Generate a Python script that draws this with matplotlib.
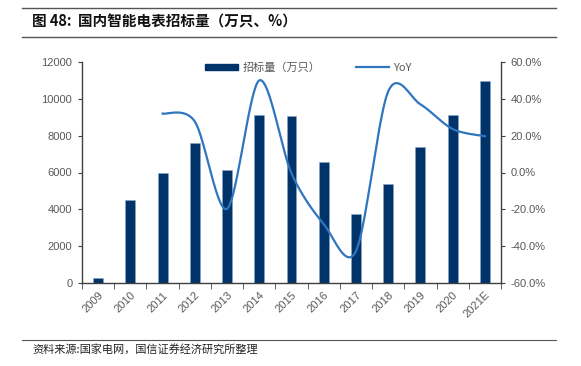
import matplotlib
matplotlib.use("Agg")
import matplotlib.pyplot as plt
import numpy as np
from matplotlib.lines import Line2D
from matplotlib.patches import Patch

years = ["2009", "2010", "2011", "2012", "2013", "2014", "2015", "2016", "2017", "2018", "2019", "2020", "2021E"]
bids = [280, 4530, 5950, 7590, 6110, 9120, 9060, 6550, 3760, 5400, 7380, 9130, 10960]
yoy_years = years[2:]
yoy = [32.0, 27.7, -19.7, 50.0, -0.5, -28.0, -42.7, 44.0, 37.0, 23.6, 19.7]

CJK = ["Noto Sans CJK SC", "DejaVu Sans"]
NUM = ["Liberation Sans", "DejaVu Sans"]

fig = plt.figure(figsize=(5.81, 3.66), dpi=100)
ax = fig.add_axes([82/581, 1-283/366, (501-82)/581, (283-62)/366])
ax2 = ax.twinx()

x = np.arange(len(years))
bar_color = "#00336a"
ax.bar(x, bids, width=0.31, color=bar_color, edgecolor="#8aa6c8", linewidth=0.4, zorder=2)
ax.set_xlim(-0.5, len(years)-0.5)
ax.set_ylim(0, 12000)
ax.set_yticks(np.arange(0, 12001, 2000))

# smooth YoY line (cardinal spline)
xi = np.array([years.index(y) for y in yoy_years], dtype=float)
yi = np.array(yoy, dtype=float)
P = np.column_stack([xi, yi])
curve = []
n = len(P)
k = 1/6.5
for i in range(n-1):
    p0 = P[i-1] if i > 0 else P[i]
    p1 = P[i]
    p2 = P[i+1]
    p3 = P[i+2] if i+2 < n else P[i+1]
    c1 = p1 + (p2 - p0) * k
    c2 = p2 - (p3 - p1) * k
    t = np.linspace(0, 1, 40)[:, None]
    seg = (1-t)**3*p1 + 3*(1-t)**2*t*c1 + 3*(1-t)*t**2*c2 + t**3*p2
    curve.append(seg if i == 0 else seg[1:])
curve = np.vstack(curve)
line_color = "#2f75bf"
ax2.plot(curve[:, 0], curve[:, 1], color=line_color, linewidth=1.6, zorder=3)
ax2.set_ylim(-60, 60)
ax2.set_yticks(np.arange(-60, 61, 20))
ax2.set_yticklabels([f"{v:.1f}%" for v in np.arange(-60, 61, 20)])

gray = "#595959"
spine_c = "#404040"
for a in (ax, ax2):
    a.spines["top"].set_visible(False)
    for s in ("left", "right", "bottom"):
        a.spines[s].set_color(spine_c)
        a.spines[s].set_linewidth(1.0)
ax.spines["right"].set_visible(False)
ax2.spines["left"].set_visible(False)
ax2.spines["bottom"].set_visible(False)

ax.tick_params(axis="y", direction="out", length=3, color=spine_c, labelcolor=gray, labelsize=8, pad=4)
ax2.tick_params(axis="y", direction="out", length=3, color=spine_c, labelcolor=gray, labelsize=8, pad=4)
for lab in ax.get_yticklabels() + ax2.get_yticklabels():
    lab.set_family(NUM)

ax.set_xticks(x)
ax.set_xticklabels(years, rotation=45, ha="right", va="top", rotation_mode="anchor", family=NUM, fontsize=8, color=gray)
ax.tick_params(axis="x", which="major", length=0, pad=5)
ax.set_xticks(np.arange(-0.5, len(years), 1.0), minor=True)
ax.tick_params(axis="x", which="minor", direction="out", length=4, color=spine_c)

handles = [Patch(facecolor=bar_color, edgecolor=bar_color), Line2D([0], [0], color=line_color, linewidth=1.6)]
leg = ax.legend(handles, ["招标量（万只）", "YoY"], loc="upper center", bbox_to_anchor=(0.54, 1.045), ncol=2,
                frameon=False, prop={"family": CJK, "size": 8}, handlelength=3.0, handleheight=0.45,
                columnspacing=3.2, handletextpad=0.4)
for t in leg.get_texts():
    t.set_color(gray)

# title and footer
fig.text(32/581, 1-22/366, "图 48:  国内智能电表招标量（万只、%）", family=CJK, fontsize=10.5, fontweight="bold",
         ha="left", va="center", color="#111111")
fig.add_artist(Line2D([22/581, 556/581], [1-8/366, 1-8/366], color="#555555", linewidth=1.0))
fig.add_artist(Line2D([22/581, 556/581], [1-37/366, 1-37/366], color="#555555", linewidth=1.0))
fig.add_artist(Line2D([22/581, 556/581], [1-340/366, 1-340/366], color="#555555", linewidth=0.8))
fig.text(32/581, 1-349/366, "资料来源:国家电网，国信证券经济研究所整理", family=CJK, fontsize=8,
         ha="left", va="center", color="#222222")

fig.savefig("out.png", dpi=100)
